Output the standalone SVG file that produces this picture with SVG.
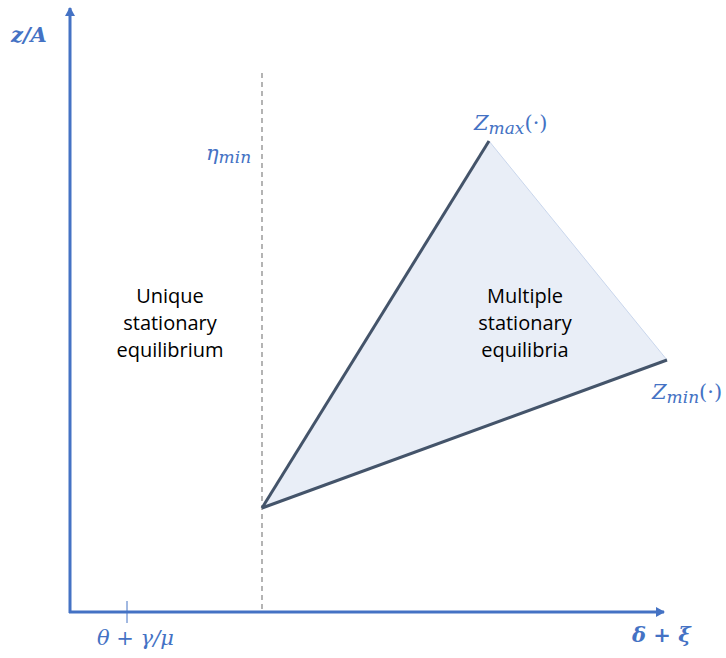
<svg xmlns="http://www.w3.org/2000/svg" width="726" height="658" viewBox="0 0 726 658">
<style>
.math{font-family:"DejaVu Serif","Liberation Serif",serif;font-style:italic;fill:#4472C4;font-size:21px}
.lbl{font-family:"Open Sans","Liberation Sans",sans-serif;fill:#000;font-size:20px;text-anchor:middle}
.axis{stroke:#4472C4;stroke-width:3;fill:none}
.edge{stroke:#44546A;stroke-width:3;fill:none}
</style>
<defs>
<marker id="ah" markerWidth="10" markerHeight="10" refX="8" refY="5" orient="auto" markerUnits="userSpaceOnUse">
<path d="M0,0 L9,5 L0,10 Z" fill="#4472C4"/>
</marker>
</defs>
<rect width="726" height="658" fill="#fff"/>
<g id="region">
<polygon points="262,508 489,141 667,360" fill="#E9EEF7"/>
<line x1="489" y1="141" x2="667" y2="360" stroke="#C9D6EC" stroke-width="1"/>
</g>
<g id="connectors">
<line class="axis" x1="70" y1="613" x2="70" y2="8" marker-end="url(#ah)"/>
<line class="axis" x1="69" y1="612" x2="664" y2="612" marker-end="url(#ah)"/>
<line x1="127" y1="601" x2="127" y2="623" stroke="#4472C4" stroke-width="1"/>
<line x1="262" y1="73" x2="262" y2="612" stroke="#8C8C8C" stroke-width="1.3" stroke-dasharray="5,4"/>
<line class="edge" x1="262" y1="508" x2="489" y2="141"/>
<line class="edge" x1="262" y1="508" x2="667" y2="360"/>
</g>
<g id="labels">
<text class="math" x="11" y="42" font-weight="bold">z/A</text>
<text class="math" x="206" y="160">η<tspan font-size="17" dy="3">min</tspan></text>
<text class="math" x="474" y="130">Z<tspan font-size="17" dy="4">max</tspan><tspan dy="-4" font-style="normal">(·)</tspan></text>
<text class="math" x="652" y="399">Z<tspan font-size="17" dy="4">min</tspan><tspan dy="-4" font-style="normal">(·)</tspan></text>
<text class="math" x="97" y="645">θ + γ/μ</text>
<text class="math" x="632" y="642" font-weight="bold">δ + ξ</text>
</g>
<g id="unique">
<text class="lbl" x="170" y="303">Unique</text>
<text class="lbl" x="170" y="330">stationary</text>
<text class="lbl" x="170" y="357">equilibrium</text>
</g>
<g id="multiple">
<text class="lbl" x="525" y="303">Multiple</text>
<text class="lbl" x="525" y="330">stationary</text>
<text class="lbl" x="525" y="357">equilibria</text>
</g>
</svg>
